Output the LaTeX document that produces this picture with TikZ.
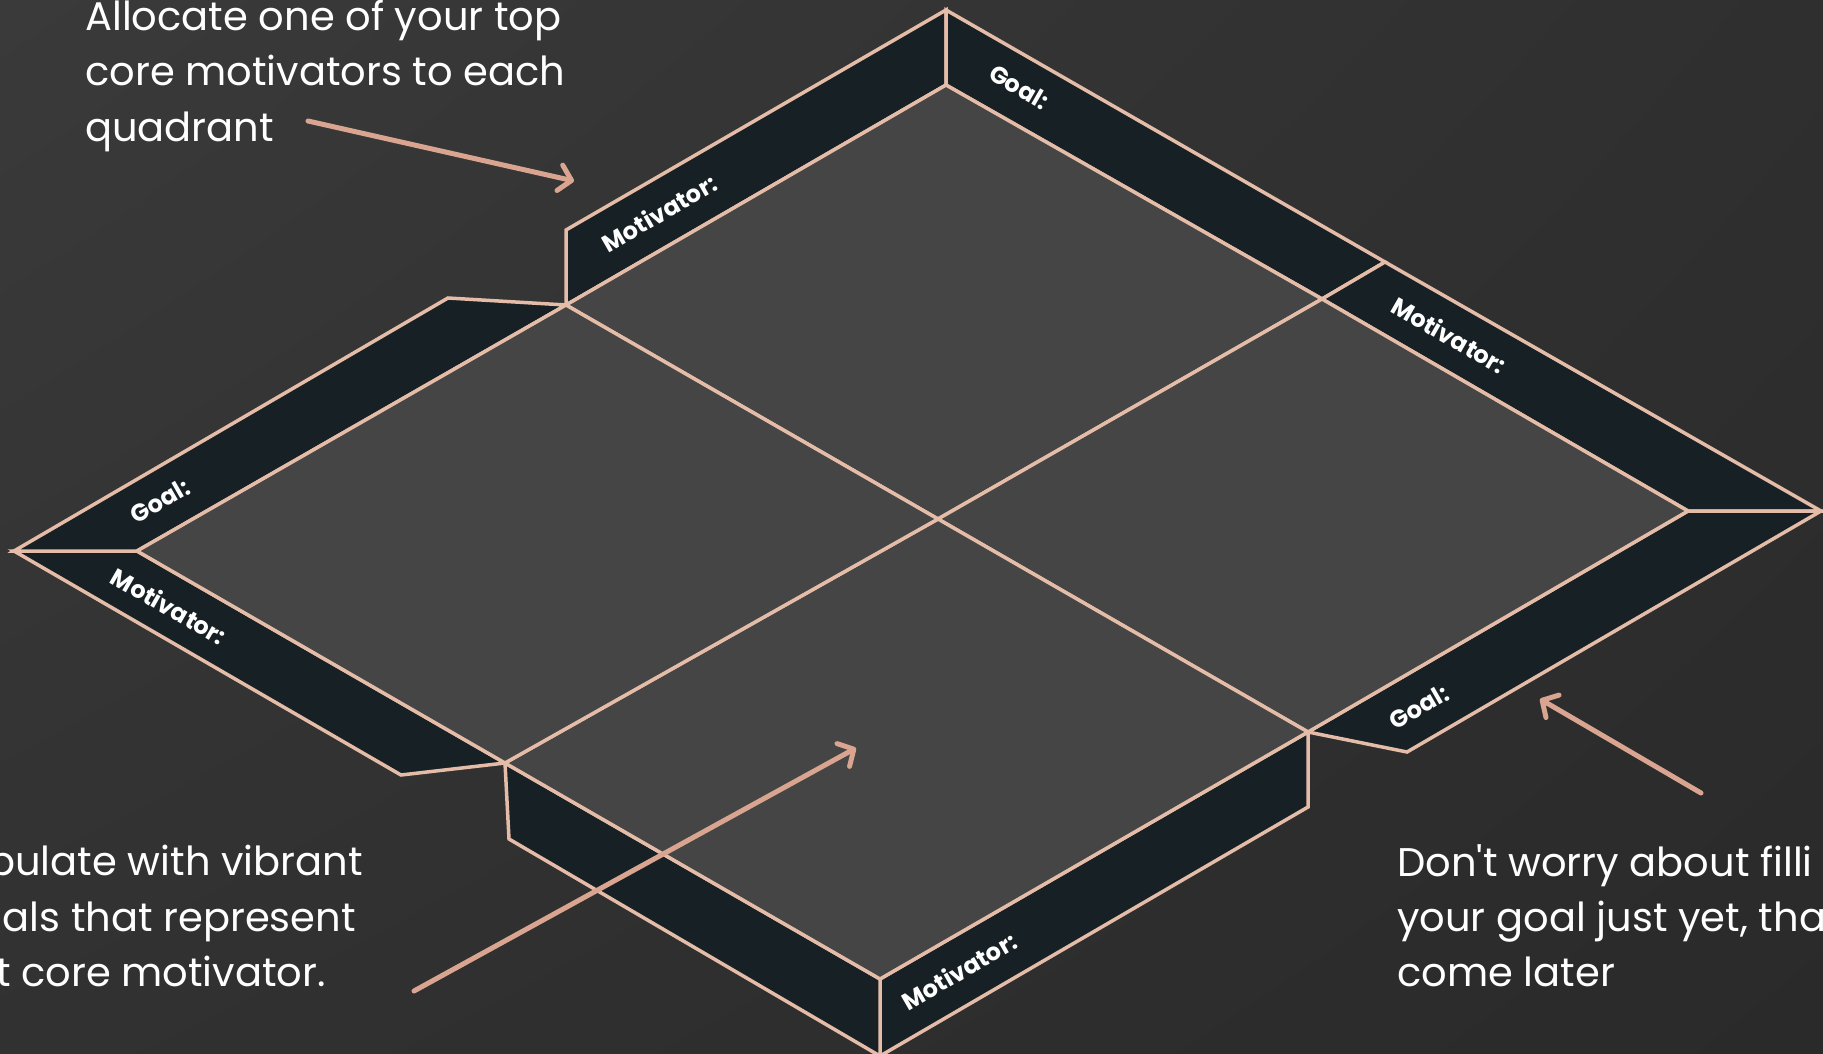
\documentclass[tikz,border=0pt]{standalone}
\usepackage{fontspec}
\setmainfont{Poppins}
\newfontfamily\notefont{Poppins}
\usetikzlibrary{arrows.meta,shadings}
\definecolor{bgUL}{HTML}{3A3A3A}
\definecolor{bgUR}{HTML}{2F2F2F}
\definecolor{bgLL}{HTML}{313131}
\definecolor{bgLR}{HTML}{2A2A2A}
\definecolor{stripC}{HTML}{172125}
\definecolor{quadC}{HTML}{444544}
\definecolor{lineC}{HTML}{E4BCA8}
\definecolor{arrowC}{HTML}{D9A590}
\begin{document}
\begin{tikzpicture}[x=1pt,y=-1pt,
  strip/.style={fill=stripC, draw=lineC, line width=3.5pt},
  quad/.style={fill=quadC, draw=lineC, line width=3.5pt},
  lbl/.style={text=white, font=\fontsize{24}{24}\selectfont\bfseries, inner sep=0pt},
  note/.style={text=white, font=\notefont\fontsize{40}{56}\selectfont, inner sep=0pt},
  pointer/.style={draw=arrowC, line width=5pt, line cap=round,
    -{Straight Barb[length=12pt, width=26pt, line cap=round, line join=round]}}
]
\useasboundingbox (0,0) rectangle (1823,1054);
\shade[upper left=bgUL, upper right=bgUR, lower left=bgLL, lower right=bgLR] (0,0) rectangle (1823,1054);

% key points
\coordinate (T) at (946,85);   \coordinate (To) at (946,10);
\coordinate (R) at (1688,511); \coordinate (Ro) at (1821,511);
\coordinate (B) at (880,979);  \coordinate (Bo) at (880,1056);
\coordinate (L) at (137,551);  \coordinate (Lo) at (14,551);
\coordinate (MTL) at (566,305); \coordinate (MTLo) at (566,230); \coordinate (MTLl) at (448,298);
\coordinate (MTR) at (1322,299); \coordinate (MTRo) at (1385,262);
\coordinate (MBR) at (1308,732); \coordinate (MBRd) at (1308,807); \coordinate (MBRr) at (1407,752);
\coordinate (MBL) at (505,763); \coordinate (MBLd) at (509,839); \coordinate (MBLl) at (401,775);
\coordinate (C) at (938,519);

% border strips
\path[strip] (MTL) -- (MTLo) -- (To) -- (T) -- cycle;
\path[strip] (T) -- (To) -- (MTRo) -- (MTR) -- cycle;
\path[strip] (MTR) -- (MTRo) -- (Ro) -- (R) -- cycle;
\path[strip] (R) -- (Ro) -- (MBRr) -- (MBR) -- cycle;
\path[strip] (MBR) -- (MBRd) -- (Bo) -- (B) -- cycle;
\path[strip] (B) -- (Bo) -- (MBLd) -- (MBL) -- cycle;
\path[strip] (MBL) -- (MBLl) -- (Lo) -- (L) -- cycle;
\path[strip] (L) -- (Lo) -- (MTLl) -- (MTL) -- cycle;

% quadrants
\path[quad] (T) -- (MTR) -- (C) -- (MTL) -- cycle;
\path[quad] (MTR) -- (R) -- (MBR) -- (C) -- cycle;
\path[quad] (C) -- (MBR) -- (B) -- (MBL) -- cycle;
\path[quad] (MTL) -- (C) -- (MBL) -- (L) -- cycle;

% strip labels
\node[lbl, rotate=30]  (mot1)  at (659,213)  {Motivator:};
\node[lbl, rotate=-30] (goal1) at (1019,87)  {Goal:};
\node[lbl, rotate=-30] (mot2)  at (1449,335) {Motivator:};
\node[lbl, rotate=30]  (goal2) at (1419,707) {Goal:};
\node[lbl, rotate=30]  (mot3)  at (959,971)  {Motivator:};
\node[lbl, rotate=30]  (goal3) at (160,501)  {Goal:};
\node[lbl, rotate=-30] (mot4)  at (169,606)  {Motivator:};

% notes
\node[note, anchor=base west] (a1) at (85,31)  {Allocate one of your top};
\node[note, anchor=base west] (a2) at (85,86)  {core motivators to each};
\node[note, anchor=base west] (a3) at (85,142) {quadrant};

\node[note, anchor=base east] (b1) at (363,875) {pulate with vibrant};
\node[note, anchor=base east] (b2) at (356,931) {uals that represent};
\node[note, anchor=base east] (b3) at (326,986) {t core motivator.};

\node[note, anchor=base west] (c1) at (1397,876) {Don't worry about filli};
\node[note, anchor=base west] (c2) at (1397,931) {your goal just yet, tha};
\node[note, anchor=base west] (c3) at (1397,986) {come later};

% pointers
\coordinate (p1s) at (308,121); \coordinate (p1e) at (574,181);
\coordinate (p2s) at (414,991); \coordinate (p2e) at (856,748);
\coordinate (p3s) at (1701,793); \coordinate (p3e) at (1540,699);
\draw[pointer] (p1s) -- (p1e);
\draw[pointer] (p2s) -- (p2e);
\draw[pointer] (p3s) -- (p3e);
\end{tikzpicture}
\end{document}
